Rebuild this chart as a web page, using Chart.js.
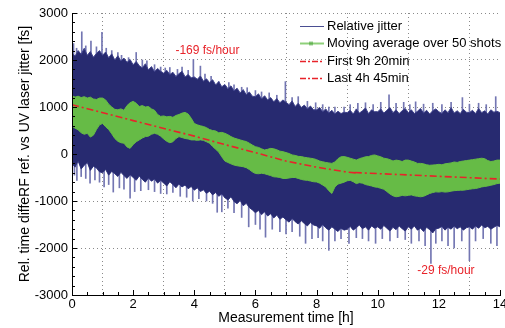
<!DOCTYPE html>
<html>
<head>
<meta charset="utf-8">
<script src="https://cdn.jsdelivr.net/npm/chart.js@4.4.0/dist/chart.umd.min.js"></script>
<style>
html, body { margin: 0; padding: 0; background: #fff; }
canvas { display: block; }
</style>
</head>
<body>
<canvas id="chartJitter" width="505" height="328"></canvas>
<script>
// sampled every 0.1 h from 0 to 14 h
var sampleStep = 0.1;

// dense part of the jitter band (fs)
var jitterHigh = [
    2150, 2080, 2200, 2120, 2250, 2100, 2180, 2060, 2140, 2200,
    2100, 2170, 2050, 2130, 2000, 2090, 1980, 2040, 1950, 2010,
    1900, 1970, 1880, 1830, 1920, 1790, 1860, 1750, 1820, 1760,
    1720, 1780, 1690, 1740, 1650, 1710, 1760, 1640, 1690, 1620,
    1640, 1590, 1660, 1550, 1600, 1520, 1580, 1470, 1540, 1430,
    1480, 1390, 1450, 1340, 1400, 1300, 1370, 1260, 1320, 1230,
    1220, 1280, 1170, 1240, 1150, 1200, 1110, 1180, 1090, 1150,
    1100, 1050, 1130, 1010, 1080, 990, 1040, 960, 1020, 940,
    940, 990, 900, 960, 870, 930, 850, 910, 860, 890,
    880, 930, 850, 960, 870, 920, 980, 860, 940, 900,
    900, 960, 870, 930, 990, 880, 940, 860, 920, 970,
    880, 940, 860, 910, 970, 870, 930, 850, 920, 960,
    900, 860, 940, 880, 990, 870, 920, 860, 950, 890,
    880, 930, 860, 970, 880, 920, 850, 940, 890, 910,
    880
];
var jitterLow = [
    -200, -280, -150, -320, -240, -180, -350, -260, -300, -380,
    -400, -330, -450, -370, -420, -480, -390, -460, -520, -440,
    -500, -560, -470, -540, -600, -510, -580, -530, -620, -560,
    -620, -680, -590, -650, -720, -640, -700, -660, -740, -690,
    -770, -720, -800, -760, -840, -790, -870, -820, -900, -850,
    -930, -980, -910, -1010, -1060, -990, -1100, -1050, -1140, -1190,
    -1250, -1200, -1290, -1230, -1320, -1270, -1360, -1300, -1390, -1340,
    -1400, -1450, -1370, -1440, -1490, -1420, -1480, -1530, -1460, -1510,
    -1530, -1580, -1500, -1570, -1620, -1550, -1600, -1650, -1580, -1620,
    -1600, -1540, -1620, -1570, -1510, -1590, -1550, -1620, -1530, -1580,
    -1550, -1600, -1520, -1580, -1640, -1560, -1610, -1530, -1590, -1640,
    -1550, -1600, -1530, -1620, -1580, -1650, -1560, -1610, -1680, -1590,
    -1580, -1540, -1620, -1560, -1600, -1530, -1590, -1550, -1620, -1570,
    -1550, -1600, -1530, -1580, -1510, -1570, -1540, -1600, -1560, -1520,
    -1550
];

// isolated single-shot spikes outside the dense band
var spikeTimes = [
    0.05, 0.15, 0.32, 0.45, 0.62, 0.8, 0.98, 1.12, 1.3, 1.5, 1.62, 1.85, 2.1, 2.3, 2.45, 2.7,
    2.9, 3.05, 3.2, 3.45, 3.6, 3.8, 3.97, 4.2, 4.35, 4.55, 4.8, 5.13, 5.3, 5.55, 5.73, 6.0,
    6.2, 6.45, 6.7, 6.98, 7.2, 7.4, 7.7, 7.97, 8.2, 8.4, 8.6, 8.9, 9.1, 9.35, 9.6, 9.85,
    10.1, 10.37, 10.6, 10.85, 11.05, 11.24, 11.5, 11.8, 12.1, 12.4, 12.77, 13.0, 13.3, 13.55, 13.86,
    0.08, 0.16, 0.3, 0.45, 0.59, 0.75, 0.9, 1.05, 1.2, 1.35, 1.55, 1.7, 1.9, 2.05, 2.25, 2.5,
    2.7, 2.9, 3.1, 3.3, 3.54, 3.75, 3.95, 4.15, 4.4, 4.6, 4.75, 4.9, 5.1, 5.3, 5.55, 5.78,
    6.0, 6.15, 6.33, 6.55, 6.8, 7.0, 7.2, 7.45, 7.64, 7.85, 8.05, 8.2, 8.4, 8.6, 8.8, 9.06,
    9.3, 9.5, 9.7, 9.93, 10.15, 10.4, 10.65, 10.9, 11.1, 11.35, 11.55, 11.74, 11.9, 12.1, 12.3,
    12.5, 12.75, 13.0, 13.2, 13.45, 13.7, 13.9
];
var spikeValues = [
    2350, 2250, 2600, 2300, 2400, 2280, 2590, 2250, 2200, 2160, 2100, 2050, 2160, 2000, 1980, 1900,
    1850, 1830, 1840, 1800, 1850, 1780, 2010, 1870, 1700, 1650, 1540, 1520, 1470, 1420, 1410, 1350,
    1320, 1300, 1250, 1540, 1200, 1220, 1120, 1090, 1050, 1000, 1000, 1000, 1050, 1080, 1090, 1050,
    1100, 1260, 1080, 1100, 1050, 1110, 1060, 1080, 1050, 1100, 1200, 1060, 1080, 1050, 1220,
    -450, -560, -480, -520, -620, -550, -600, -700, -650, -810, -720, -750, -940, -800, -780, -760,
    -800, -840, -850, -820, -900, -920, -1000, -950, -1000, -1050, -1240, -1230, -1150, -1250, -1350, -1550,
    -1500, -1600, -1770, -1600, -1650, -1700, -1650, -1750, -1900, -1800, -1780, -1850, -2050, -1850, -1800, -1900,
    -1780, -1800, -1850, -1900, -1800, -1850, -1780, -1820, -1900, -1850, -1950, -2330, -1900, -1850, -1950,
    -2000, -1850, -2270, -1850, -1800, -1900, -1950
];

// moving average over 50 shots, upper and lower edge (fs)
var avgHigh = [
    1240, 1210, 1230, 1200, 1220, 1190, 1210, 1170, 1160, 1190,
    1190, 1150, 1060, 1000, 950, 940, 960, 930, 1030, 1090,
    1120, 1080, 1010, 1030, 1000, 1010, 960, 930, 840, 800,
    810, 790, 800, 780, 820, 840, 870, 885, 850, 760,
    650, 620, 600, 585, 560, 520, 500, 490, 450, 460,
    440, 410, 370, 340, 320, 300, 280, 265, 230, 190,
    155, 140, 110, 85, 100, 120, 110, 90, 60, 50,
    30, 10, -20, -30, -50, -55, -70, -80, -90, -100,
    -120, -150, -165, -180, -190, -200, -170, -100, -60, -55,
    -70, -90, -110, -130, -100, -80, -60, -55, -30, -20,
    -40, -60, -90, -100, -120, -150, -130, -140, -160, -130,
    -130, -150, -170, -200, -200, -210, -230, -240, -235, -230,
    -220, -230, -210, -200, -190, -170, -180, -160, -150, -140,
    -130, -120, -110, -100, -90, -100, -140, -160, -150, -130,
    -130
];
var avgLow = [
    590, 550, 515, 450, 420, 440, 360, 400, 520, 620,
    650, 580, 520, 430, 330, 270, 240, 230, 150, 120,
    200, 260, 300, 340, 370, 380, 420, 440, 420, 380,
    320, 270, 240, 260, 330, 370, 350, 330, 320, 300,
    300, 290, 300, 290, 260, 230, 160, 100, 40, -60,
    -150, -180, -210, -235, -250, -260, -270, -290, -330, -380,
    -415, -420, -410, -420, -440, -460, -485, -490, -500, -520,
    -520, -510, -500, -500, -520, -540, -555, -560, -575, -590,
    -595, -620, -660, -700, -780, -840, -700, -640, -620, -600,
    -570, -560, -590, -630, -610, -620, -650, -665, -680, -700,
    -710, -730, -750, -800, -850, -890, -910, -900, -880, -890,
    -880, -870, -890, -900, -910, -900, -870, -840, -820, -805,
    -810, -800, -810, -805, -790, -780, -775, -770, -770, -760,
    -750, -740, -735, -720, -700, -690, -680, -665, -650, -630,
    -620
];

// trend fits (dash-dot)
var firstFitTimes = [0, 2, 4, 5, 6, 7, 8, 9, 9.33];
var firstFitValues = [1050, 710, 380, 200, 30, -150, -280, -385, -405];
var lastFitTimes = [9.25, 14];
var lastFitValues = [-395, -533];

var slopeLabels = ["-169 fs/hour", "-29 fs/hour"];
var slopeLabelTimes = [4.43, 12.23];
var slopeLabelValues = [2200, -2480];

var xTicks = [0, 2, 4, 6, 8, 10, 12, 14];
var yTicks = [-3000, -2000, -1000, 0, 1000, 2000, 3000];
var xMinorStep = 0.5;
var yMinorStep = 200;

var navy = '#272a70';
var green = '#66bb46';
var red = '#e8232a';
var fontFamily = '"Liberation Sans", Arial, Helvetica, sans-serif';

var jitterTimes = jitterHigh.map(function (v, i) { return i / 10; });

function linePoints(times, vals) {
    return times.map(function (t, i) { return { x: t, y: vals[i] }; });
}

var insideTicks = {
    id: 'insideTicks',
    afterDatasetsDraw: function (chart) {
        var c = chart.ctx, sx = chart.scales.x, sy = chart.scales.y, a = chart.chartArea;
        c.save();
        c.strokeStyle = '#000';
        c.lineWidth = 1;
        c.beginPath();
        var i, t, v, px, len;
        for (i = 0; (t = sx.min + i * xMinorStep) <= sx.max + 1e-9; i++) {
            px = Math.round(sx.getPixelForValue(t)) + 0.5;
            len = xTicks.indexOf(t) >= 0 ? 5 : 3;
            c.moveTo(px, a.bottom);
            c.lineTo(px, a.bottom - len);
        }
        for (i = 0; (v = sy.min + i * yMinorStep) <= sy.max + 1e-9; i++) {
            px = Math.round(sy.getPixelForValue(v)) + 0.5;
            len = yTicks.indexOf(v) >= 0 ? 5 : 3;
            c.moveTo(a.left, px);
            c.lineTo(a.left + len, px);
        }
        c.stroke();
        c.beginPath();
        c.moveTo(Math.round(a.left) + 0.5, a.top);
        c.lineTo(Math.round(a.left) + 0.5, Math.round(a.bottom) + 0.5);
        c.lineTo(a.right, Math.round(a.bottom) + 0.5);
        c.stroke();

        // slope annotations
        c.fillStyle = red;
        c.font = '12px ' + fontFamily;
        c.textAlign = 'center';
        c.textBaseline = 'middle';
        slopeLabels.forEach(function (s, k) {
            c.fillText(s, sx.getPixelForValue(slopeLabelTimes[k]), sy.getPixelForValue(slopeLabelValues[k]));
        });
        c.restore();
    }
};

var insideLegend = {
    id: 'insideLegend',
    afterDraw: function (chart) {
        var c = chart.ctx, ds = chart.data.datasets;
        var items = [
            { label: ds[0].label, color: '#4a4e92', width: 1, dash: [] },
            { label: ds[3].label, color: '#8fd07a', width: 2, dash: [], marker: true },
            { label: ds[5].label, color: red, width: 1.5, dash: [6, 2, 2, 2] },
            { label: ds[6].label, color: red, width: 1.5, dash: [6, 2, 2, 2] }
        ];
        var x0 = 300, x1 = 324, tx = 327, y0 = 26, dy = 17.3;
        c.save();
        c.font = '13px ' + fontFamily;
        c.textBaseline = 'middle';
        c.textAlign = 'left';
        items.forEach(function (it, i) {
            var y = Math.round(y0 + i * dy) + 0.5;
            c.strokeStyle = it.color;
            c.lineWidth = it.width;
            c.setLineDash(it.dash);
            c.beginPath();
            c.moveTo(x0, y);
            c.lineTo(x1, y);
            c.stroke();
            c.setLineDash([]);
            if (it.marker) {
                c.lineWidth = 1;
                c.strokeStyle = '#3a9a2a';
                c.beginPath();
                c.moveTo(x0 + 10, y - 2); c.lineTo(x0 + 10, y + 2);
                c.moveTo(x0 + 12, y - 2); c.lineTo(x0 + 12, y + 2);
                c.stroke();
            }
            c.fillStyle = '#000';
            c.fillText(it.label, tx, y);
        });
        c.restore();
    }
};

function bandEdge(label, times, vals, color, edge, fill, order) {
    return {
        type: 'line',
        label: label,
        data: linePoints(times, vals),
        borderColor: edge,
        backgroundColor: color,
        borderWidth: 1,
        pointRadius: 0,
        tension: 0,
        fill: fill,
        order: order
    };
}

var ctxJitter = document.getElementById('chartJitter');
var chartJitter = new Chart(ctxJitter, {
    type: 'line',
    data: {
        datasets: [
            bandEdge('Relative jitter', jitterTimes, jitterHigh, navy, '#3d408a', '+1', 5),
            bandEdge('jitter low', jitterTimes, jitterLow, navy, '#3d408a', false, 5),
            {
                type: 'bar',
                label: 'spikes',
                data: spikeTimes.map(function (t, i) { return { x: t, y: [0, spikeValues[i]] }; }),
                backgroundColor: '#7376b2',
                borderWidth: 0,
                barThickness: 1,
                grouped: false,
                order: 6
            },
            bandEdge('Moving average over 50 shots', jitterTimes, avgHigh, green, green, '+1', 3),
            bandEdge('average low', jitterTimes, avgLow, green, green, false, 3),
            {
                type: 'line',
                label: 'First 9h 20min',
                data: linePoints(firstFitTimes, firstFitValues),
                borderColor: red,
                borderWidth: 1.6,
                borderDash: [7, 3, 2, 3],
                pointRadius: 0,
                tension: 0,
                fill: false,
                order: 1
            },
            {
                type: 'line',
                label: 'Last 4h 45min',
                data: linePoints(lastFitTimes, lastFitValues),
                borderColor: red,
                borderWidth: 1.6,
                borderDash: [7, 3, 2, 3],
                pointRadius: 0,
                tension: 0,
                fill: false,
                order: 0
            }
        ]
    },
    options: {
        responsive: false,
        animation: false,
        events: [],
        layout: { padding: { top: 13, right: 5, left: 0, bottom: 0 } },
        plugins: {
            legend: { display: false },
            tooltip: { enabled: false }
        },
        scales: {
            x: {
                type: 'linear',
                min: 0,
                max: 14,
                offset: false,
                afterBuildTicks: function (s) { s.ticks = xTicks.map(function (v) { return { value: v }; }); },
                afterFit: function (s) { s.height = 33; s.paddingLeft = 0; s.paddingRight = 0; },
                ticks: {
                    color: '#000',
                    font: { family: fontFamily, size: 13 },
                    padding: 2,
                    maxRotation: 0,
                    autoSkip: false,
                    callback: function (v) { return String(v); }
                },
                grid: { color: '#8a8a8a', lineWidth: 1, drawTicks: false },
                border: { display: true, color: '#000', dash: [1, 3] },
                title: {
                    display: true,
                    text: 'Measurement time [h]',
                    color: '#000',
                    font: { family: fontFamily, size: 14 },
                    padding: { top: 0, bottom: 1 }
                }
            },
            y: {
                type: 'linear',
                min: -3000,
                max: 3000,
                afterBuildTicks: function (s) { s.ticks = yTicks.map(function (v) { return { value: v }; }); },
                afterFit: function (s) { s.width = 72; s.paddingTop = 0; s.paddingBottom = 0; },
                ticks: {
                    color: '#000',
                    font: { family: fontFamily, size: 13 },
                    padding: 4,
                    autoSkip: false,
                    callback: function (v) { return String(v); }
                },
                grid: { color: '#8a8a8a', lineWidth: 1, drawTicks: false },
                border: { display: true, color: '#000', dash: [1, 3] },
                title: {
                    display: true,
                    text: 'Rel. time diffeRF ref. vs UV laser jitter [fs]',
                    color: '#000',
                    font: { family: fontFamily, size: 14 },
                    padding: { top: 17, bottom: 0 }
                }
            }
        }
    },
    plugins: [insideTicks, insideLegend]
});
</script>
</body>
</html>
